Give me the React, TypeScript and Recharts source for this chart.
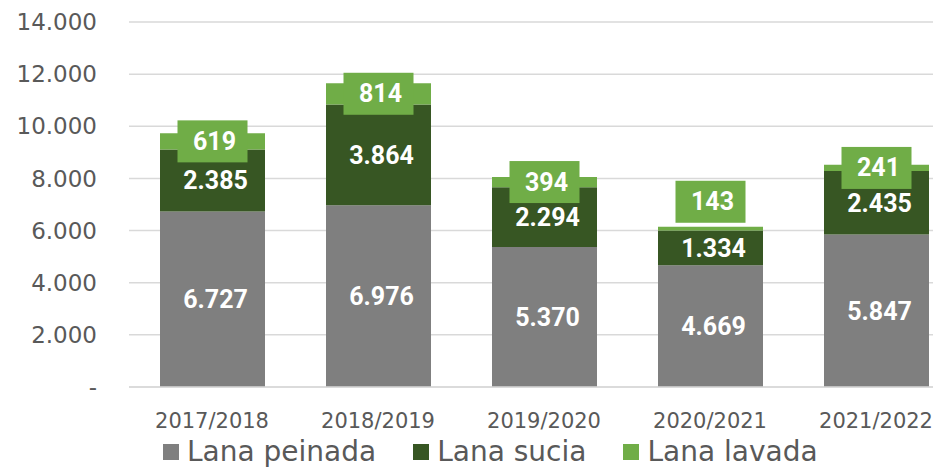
import { Bar, BarChart, CartesianGrid, LabelList, Legend, XAxis, YAxis } from 'recharts';

const campaigns = ['2017/2018', '2018/2019', '2019/2020', '2020/2021', '2021/2022'];
const lanaPeinada = [6727, 6976, 5370, 4669, 5847];
const lanaSucia = [2385, 3864, 2294, 1334, 2435];
const lanaLavada = [619, 814, 394, 143, 241];
const yTicks = [0, 2000, 4000, 6000, 8000, 10000, 12000, 14000];

const series = [
  { key: 'peinada', name: 'Lana peinada', color: '#7f7f7f' },
  { key: 'sucia', name: 'Lana sucia', color: '#375623' },
  { key: 'lavada', name: 'Lana lavada', color: '#70ad47' },
];

const data = campaigns.map((campaign, i) => ({
  campaign,
  peinada: lanaPeinada[i],
  sucia: lanaSucia[i],
  lavada: lanaLavada[i],
}));

const fmt = (v: number) => (v === 0 ? '-' : String(v).replace(/\B(?=(\d{3})+(?!\d))/g, '.'));

const AXIS_FONT = '"DejaVu Sans", sans-serif';
const LABEL_FONT = 'Roboto, sans-serif';

// boxed label for the thin top segment; lifted above the bar when the segment is too thin
function LavadaLabel(props: any) {
  const vb = props.viewBox ?? props;
  const x = Number(vb.x);
  const width = Number(vb.width);
  const h = Number(vb.height);
  const top = h < 0 ? Number(vb.y) + h : Number(vb.y);
  const height = Math.abs(h);
  const bw = 70;
  const bh = 42;
  const cx = x + width / 2;
  const cy = height < 5 ? top - 4 - bh / 2 : top + height / 2;
  return (
    <g>
      <rect x={cx - bw / 2} y={cy - bh / 2} width={bw} height={bh} fill="#70ad47" />
      <text
        x={cx + 2}
        y={cy}
        textAnchor="middle"
        dominantBaseline="central"
        fill="#ffffff"
        fontSize={25}
        fontWeight={700}
        fontFamily={LABEL_FONT}
      >
        {fmt(Number(props.value))}
      </text>
    </g>
  );
}

function ChartLegend() {
  return (
    <div style={{ display: 'flex', alignItems: 'center', paddingLeft: 163, height: 34 }}>
      {series.map((s, i) => (
        <div key={s.key} style={{ display: 'flex', alignItems: 'center', marginRight: i < 2 ? 37 : 0 }}>
          <span style={{ width: 16, height: 16, background: s.color, display: 'inline-block', marginRight: 8 }} />
          <span style={{ fontFamily: AXIS_FONT, fontSize: 28, color: '#595959', lineHeight: '30px' }}>{s.name}</span>
        </div>
      ))}
    </div>
  );
}

export default function App() {
  return (
    <div style={{ position: 'absolute', left: 0, top: 0, width: 933, height: 469, overflow: 'hidden', background: '#fff' }}>
      <BarChart
        width={975}
        height={469}
        data={data}
        margin={{ top: 22, right: 16, bottom: 0, left: 0 }}
        barSize={105}
      >
        <CartesianGrid vertical={false} stroke="#d9d9d9" strokeWidth={1.5} />
        <XAxis
          dataKey="campaign"
          height={48}
          tickSize={0}
          tickMargin={26}
          axisLine={{ stroke: '#d9d9d9', strokeWidth: 1.5 }}
          tick={{ fill: '#595959', fontSize: 21, fontFamily: AXIS_FONT }}
        />
        <YAxis
          width={129}
          domain={[0, 14000]}
          ticks={yTicks}
          tickFormatter={fmt}
          axisLine={false}
          tickLine={false}
          tickSize={0}
          tickMargin={32}
          tick={{ fill: '#595959', fontSize: 23, fontFamily: AXIS_FONT }}
        />
        <Legend verticalAlign="bottom" height={34} content={() => <ChartLegend />} />
        <Bar dataKey="peinada" name="Lana peinada" stackId="a" fill="#7f7f7f" isAnimationActive={false}>
          <LabelList
            dataKey="peinada"
            position="center"
            formatter={(v: any) => fmt(Number(v))}
            fill="#ffffff"
            fontSize={25}
            fontWeight={700}
            fontFamily={LABEL_FONT}
            dx={3}
          />
        </Bar>
        <Bar dataKey="sucia" name="Lana sucia" stackId="a" fill="#375623" isAnimationActive={false}>
          <LabelList
            dataKey="sucia"
            position="center"
            formatter={(v: any) => fmt(Number(v))}
            fill="#ffffff"
            fontSize={25}
            fontWeight={700}
            fontFamily={LABEL_FONT}
            dx={3}
          />
        </Bar>
        <Bar dataKey="lavada" name="Lana lavada" stackId="a" fill="#70ad47" isAnimationActive={false}>
          <LabelList dataKey="lavada" content={(p: any) => <LavadaLabel {...p} />} />
        </Bar>
      </BarChart>
    </div>
  );
}
